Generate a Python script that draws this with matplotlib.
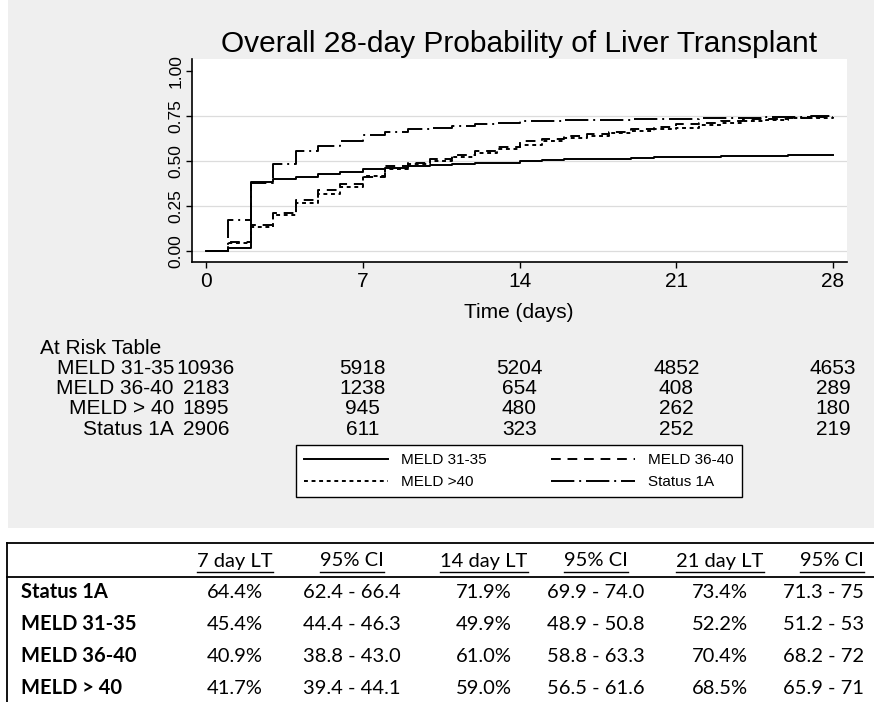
import numpy as np
import matplotlib
matplotlib.use('Agg')
import matplotlib.pyplot as plt
import matplotlib.transforms as mtransforms
from matplotlib.lines import Line2D
from matplotlib.patches import Rectangle

# ---- data ----
days = np.arange(0, 29)

meld_31_35 = [0, 0.015, 0.385, 0.400, 0.413, 0.426, 0.440, 0.454, 0.460, 0.470,
              0.478, 0.480, 0.486, 0.490, 0.499, 0.502, 0.508, 0.510, 0.512, 0.515,
              0.520, 0.522, 0.524, 0.526, 0.528, 0.529, 0.532, 0.533, 0.534]
meld_36_40 = [0, 0.050, 0.145, 0.210, 0.285, 0.340, 0.372, 0.409, 0.470, 0.488,
              0.510, 0.533, 0.555, 0.575, 0.610, 0.622, 0.636, 0.650, 0.660, 0.675,
              0.690, 0.704, 0.712, 0.722, 0.730, 0.734, 0.740, 0.743, 0.746]
meld_gt_40 = [0, 0.045, 0.135, 0.198, 0.265, 0.315, 0.357, 0.417, 0.455, 0.480,
              0.500, 0.520, 0.545, 0.565, 0.590, 0.608, 0.625, 0.640, 0.652, 0.665,
              0.675, 0.685, 0.698, 0.712, 0.722, 0.728, 0.735, 0.738, 0.742]
status_1a = [0, 0.170, 0.375, 0.485, 0.555, 0.585, 0.610, 0.644, 0.660, 0.676,
             0.684, 0.695, 0.704, 0.712, 0.719, 0.722, 0.724, 0.726, 0.728, 0.730,
             0.732, 0.734, 0.737, 0.738, 0.740, 0.742, 0.745, 0.748, 0.750]

risk_times = [0, 7, 14, 21, 28]
risk_labels = ['MELD 31-35', 'MELD 36-40', 'MELD > 40', 'Status 1A']
risk_counts = [[10936, 5918, 5204, 4852, 4653],
               [2183, 1238, 654, 408, 289],
               [1895, 945, 480, 262, 180],
               [2906, 611, 323, 252, 219]]

tbl_header = ['7 day LT', '95% CI', '14 day LT', '95% CI', '21 day LT', '95% CI']
tbl_rows = ['Status 1A', 'MELD 31-35', 'MELD 36-40', 'MELD > 40']
tbl_cells = [['64.4%', '62.4 - 66.4', '71.9%', '69.9 - 74.0', '73.4%', '71.3 - 75'],
             ['45.4%', '44.4 - 46.3', '49.9%', '48.9 - 50.8', '52.2%', '51.2 - 53'],
             ['40.9%', '38.8 - 43.0', '61.0%', '58.8 - 63.3', '70.4%', '68.2 - 72'],
             ['41.7%', '39.4 - 44.1', '59.0%', '56.5 - 61.6', '68.5%', '65.9 - 71']]

W, H = 874, 702


def fx(px):
    return px / W


def fy(py):
    return 1 - py / H


fig = plt.figure(figsize=(W / 100, H / 100), dpi=100, facecolor='white')
# grey stata-ish graph region
fig.add_artist(Rectangle((fx(8), fy(528)), fx(874) - fx(8), 528 / H,
                         transform=fig.transFigure, facecolor='#efefef',
                         edgecolor='none', zorder=0))

ax = fig.add_axes([fx(192), fy(262), 655 / W, 203 / H])
ax.set_facecolor('white')

lw = 1.4
ax.plot(days, meld_31_35, drawstyle='steps-post', color='black', lw=lw,
        linestyle='-', label='MELD 31-35')
ax.plot(days, meld_36_40, drawstyle='steps-post', color='black', lw=lw,
        linestyle=(0, (5, 3.5)), label='MELD 36-40')
ax.plot(days, meld_gt_40, drawstyle='steps-post', color='black', lw=lw,
        linestyle=(0, (2, 1.9)), label='MELD >40')
ax.plot(days, status_1a, drawstyle='steps-post', color='black', lw=lw,
        linestyle=(0, (12, 2.5, 1, 2.5)), label='Status 1A')

ax.set_xlim(-0.625, 28.625)
ax.set_ylim(-0.061, 1.065)
ax.set_xticks(risk_times)
ax.set_yticks([0, 0.25, 0.5, 0.75, 1.0])
ax.set_yticklabels(['0.00', '0.25', '0.50', '0.75', '1.00'], rotation=90,
                   va='center', fontsize=12.5, family='Liberation Sans')
ax.set_xticklabels([str(t) for t in risk_times], fontsize=15, family='Liberation Sans')
ax.tick_params(axis='both', direction='out', length=4.5, width=1, color='black')
ax.tick_params(axis='y', pad=1.5)
ax.tick_params(axis='x', pad=3)
ax.yaxis.grid(True, color='#dcdcdc', lw=0.9)
ax.get_ygridlines()[-1].set_visible(False)
ax.set_axisbelow(True)
for s in ['top', 'right']:
    ax.spines[s].set_visible(False)
for s in ['left', 'bottom']:
    ax.spines[s].set_color('black')
    ax.spines[s].set_linewidth(1.2)

fig.text(fx(519), fy(44), 'Overall 28-day Probability of Liver Transplant',
         ha='center', va='center', fontsize=21.5, family='Liberation Sans')
fig.text(fx(519), fy(313), 'Time (days)', ha='center', va='center',
         fontsize=15, family='Liberation Sans')

# at risk table
fig.text(fx(40), fy(348), 'At Risk Table', ha='left', va='center',
         fontsize=15, family='Liberation Sans')
risk_y = [368, 388, 408, 429]
trans = mtransforms.blended_transform_factory(ax.transData, fig.transFigure)
for lab, counts, yy in zip(risk_labels, risk_counts, risk_y):
    fig.text(fx(174), fy(yy), lab, ha='right', va='center', fontsize=15,
             family='Liberation Sans')
    for t, c in zip(risk_times, counts):
        fig.text(t, fy(yy), str(c), transform=trans, ha='center', va='center',
                 fontsize=15, family='Liberation Sans')

# legend, filled column-wise
h = ax.get_lines()
leg = fig.legend([h[0], h[2], h[1], h[3]],
                 [h[0].get_label(), h[2].get_label(), h[1].get_label(), h[3].get_label()],
                 ncol=2, loc='upper left', mode='expand',
                 bbox_to_anchor=(fx(296), fy(505), (742 - 296) / W, 60 / H),
                 borderaxespad=0, fancybox=False, frameon=True, edgecolor='black',
                 framealpha=1, handlelength=5.5, handletextpad=0.85,
                 labelspacing=0.5, borderpad=0.55,
                 prop={'family': 'Liberation Sans', 'size': 11})
leg.get_frame().set_linewidth(1.0)

# summary table below
tcol = 'black'
fig.add_artist(Line2D([fx(7), fx(874)], [fy(543), fy(543)], color=tcol, lw=1.3))
fig.add_artist(Line2D([fx(7), fx(874)], [fy(577), fy(577)], color=tcol, lw=1.3))
fig.add_artist(Line2D([fx(7), fx(7)], [fy(543), fy(702)], color=tcol, lw=1.3))

col_x = [235, 352, 484, 596, 720, 832]
row_y = [592, 624, 656, 688]
hdr_txt = []
for cx, lab in zip(col_x, tbl_header):
    hdr_txt.append(fig.text(fx(cx), fy(561), lab, ha='center', va='center',
                            fontsize=14.5, family='Lato'))
for ry, lab, cells in zip(row_y, tbl_rows, tbl_cells):
    fig.text(fx(21), fy(ry), lab, ha='left', va='center', fontsize=14.5,
             family='Lato', fontweight='bold')
    for j, (cx, val) in enumerate(zip(col_x, cells)):
        if j == len(cells) - 1:
            fig.text(fx(783), fy(ry), val, ha='left', va='center',
                     fontsize=14.5, family='Lato')
        else:
            fig.text(fx(cx), fy(ry), val, ha='center', va='center',
                     fontsize=14.5, family='Lato')

# underline the header cells
fig.canvas.draw()
r = fig.canvas.get_renderer()
for t in hdr_txt:
    bb = t.get_window_extent(renderer=r)
    fig.add_artist(Line2D([bb.x0 / W, bb.x1 / W], [fy(572), fy(572)],
                          color='black', lw=1.0))

fig.savefig('out.png', dpi=100)
